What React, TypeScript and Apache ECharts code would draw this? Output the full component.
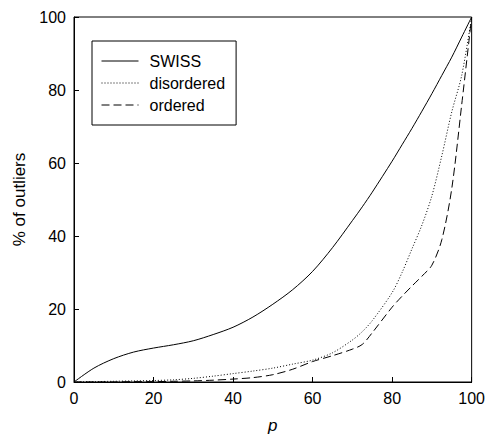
import React, { useEffect, useRef } from "react";
import * as echarts from "echarts";

const pValues = [0, 5, 10, 15, 20, 25, 30, 35, 40, 45, 50, 55, 60, 65, 70, 72.5, 75, 80, 82.5, 85, 87.5, 90, 92.5, 95, 97.5, 100];
const swiss = [0, 3.8, 6.4, 8.2, 9.3, 10.2, 11.3, 13, 15, 17.8, 21.3, 25.3, 30.3, 36.8, 44.2, 48, 52, 60.5, 65, 69.5, 74.2, 79, 84, 89, 94.5, 100];
const disordered = [0, 0.1, 0.2, 0.3, 0.4, 0.6, 1, 1.6, 2.3, 3, 3.8, 4.9, 6, 8, 11.5, 13.8, 16.8, 24.5, 30, 36.5, 43, 51, 62, 74, 84, 100];
const ordered = [0, 0, 0, 0.1, 0.1, 0.2, 0.3, 0.5, 0.8, 1.2, 2, 3.5, 5.6, 7.2, 9, 10.3, 13.5, 20.5, 23.5, 26.3, 29, 32, 39, 53, 76, 100];
const seriesNames = ["SWISS", "disordered", "ordered"];
const xTicks = [0, 20, 40, 60, 80, 100];
const yTicks = [0, 20, 40, 60, 80, 100];

const FONT = "Liberation Sans, Arial, sans-serif";

export default function App() {
  const ref = useRef<HTMLDivElement>(null);
  useEffect(() => {
    document.body.style.margin = "0";
    if (!ref.current) return;
    const chart = echarts.init(ref.current, null, { renderer: "svg" });
    const pair = (vals: number[]) => pValues.map((p, i) => [p, vals[i]]);
    const styles: any[] = [
      { type: "solid" },
      { type: [1, 2] },
      { type: [8, 4] },
    ];
    const datas = [swiss, disordered, ordered];
    chart.setOption({
      animation: false,
      grid: {
        left: 74,
        right: 14,
        top: 17,
        bottom: 60,
        show: true,
        borderColor: "#000",
        borderWidth: 1,
        containLabel: false,
      },
      legend: {
        orient: "vertical",
        left: 92,
        top: 41,
        data: seriesNames,
        borderColor: "#000",
        borderWidth: 1,
        borderRadius: 0,
        padding: [12, 11, 12, 9],
        itemWidth: 37,
        itemHeight: 13,
        itemGap: 6,
        itemStyle: { opacity: 0 },
        lineStyle: { width: 1 },
        textStyle: { fontFamily: FONT, fontSize: 16, color: "#000", padding: [0, 0, 0, 6] },
        selectedMode: false,
      },
      xAxis: {
        type: "value",
        min: 0,
        max: 100,
        interval: 20,
        name: "p",
        nameLocation: "middle",
        nameGap: 35,
        nameTextStyle: { fontFamily: FONT, fontSize: 17, fontStyle: "italic", color: "#000" },
        axisLine: { show: true, lineStyle: { color: "#000", width: 1 } },
        axisTick: { show: true, inside: true, length: 5, lineStyle: { color: "#000" } },
        axisLabel: {
          fontFamily: FONT,
          fontSize: 16,
          color: "#000",
          margin: 8,
          formatter: (v: number) => (xTicks.includes(v) ? String(v) : ""),
        },
        splitLine: { show: false },
      },
      yAxis: {
        type: "value",
        min: 0,
        max: 100,
        interval: 20,
        name: "% of outliers",
        nameLocation: "middle",
        nameGap: 46,
        nameTextStyle: { fontFamily: FONT, fontSize: 17, color: "#000" },
        axisLine: { show: true, lineStyle: { color: "#000", width: 1 } },
        axisTick: { show: true, inside: true, length: 5, lineStyle: { color: "#000" } },
        axisLabel: {
          fontFamily: FONT,
          fontSize: 16,
          color: "#000",
          margin: 8,
          formatter: (v: number) => (yTicks.includes(v) ? String(v) : ""),
        },
        splitLine: { show: false },
      },
      series: seriesNames.map((name, i) => ({
        name,
        type: "line",
        data: pair(datas[i]),
        smooth: 0.3,
        showSymbol: false,
        symbol: "none",
        color: "#000",
        lineStyle: { color: "#000", width: 1, ...styles[i] },
      })),
    });
    return () => chart.dispose();
  }, []);
  return <div ref={ref} style={{ width: 488, height: 442 }} />;
}
